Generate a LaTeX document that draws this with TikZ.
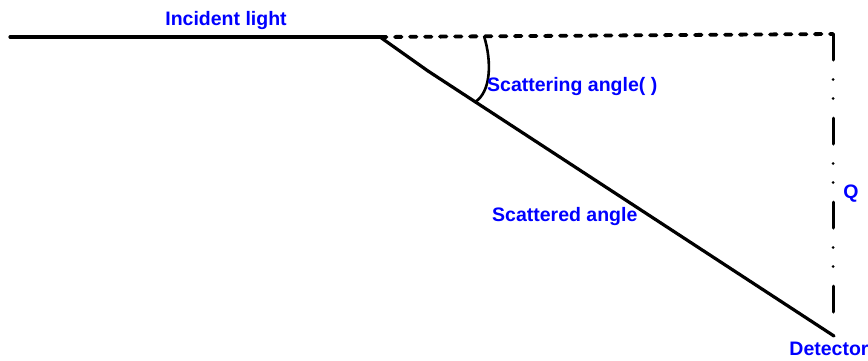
\documentclass[tikz,border=0pt]{standalone}
\usepackage{fontspec}
\setmainfont{Liberation Sans}
\begin{document}
\begin{tikzpicture}[x=1pt,y=-1pt,
  lbl/.style={text=blue,font=\fontsize{19.5}{21}\selectfont\bfseries,inner sep=0pt},
  ray/.style={line width=3.2pt,line cap=round,line join=round}]
\useasboundingbox (0,0) rectangle (868,360);
\coordinate (start) at (10,37);
\coordinate (o) at (380,37);
\coordinate (k) at (428,71);
\coordinate (tr) at (833,34);
\coordinate (det) at (834,336);
\coordinate (qb) at (833,318);
\coordinate (a1) at (484,36);
\coordinate (a2) at (475,102);
\draw[ray] (start) -- (o);
\draw[line width=3.8pt,line cap=round,dash pattern=on 6.5pt off 8.5pt] (o) -- (tr);
\draw[line width=3pt,line cap=round,dash pattern=on 26pt off 19.5pt on 0pt off 19pt on 0pt off 19.5pt] (tr) -- (qb);
\draw[ray] (o) -- (k) -- (det);
\draw[line width=2.6pt] (a1) .. controls (492,62) and (491,92) .. (a2);
\node[lbl] (inc) at (226,20) {Incident light};
\node[lbl,anchor=west] (sca) at (487,86) {Scattering angle( )};
\node[lbl,anchor=west] (scd) at (492,216) {Scattered angle};
\node[lbl] (q) at (851,194) {Q};
\node[lbl] (d) at (829,349) {Detector};
\end{tikzpicture}
\end{document}
